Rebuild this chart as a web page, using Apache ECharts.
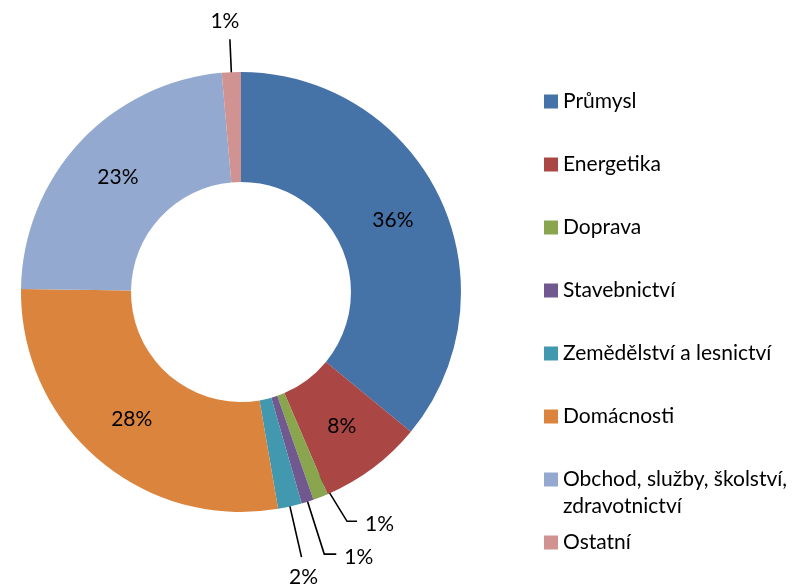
<!DOCTYPE html>
<html><head><meta charset="utf-8">
<script src="https://cdn.jsdelivr.net/npm/echarts@6/dist/echarts.min.js"></script>
<style>html,body{margin:0;padding:0;background:#fff}#c{width:803px;height:587px}</style>
</head><body><div id="c"></div>
<script>
const categories = ['Průmysl','Energetika','Doprava','Stavebnictví','Zemědělství a lesnictví','Domácnosti','Obchod, služby, školství, zdravotnictví','Ostatní'];
const shares = [36.0, 7.6, 1.1, 0.9, 1.75, 27.95, 23.4, 1.4];
const colors = ['#4572A7','#AA4643','#89A54E','#71588F','#4198AF','#DB843D','#93A9CF','#D19392'];
const FONT = 'Lato';
const leaders = {
  'Doprava': {length: 81, length2: 10, shift: 17, place: 'right'},
  'Stavebnictví': {length: 110, length2: 12, shift: 0, place: 'right'},
  'Zemědělství a lesnictví': {length: 107, length2: 0, shift: 0, place: 'below'},
  'Ostatní': {length: 88, length2: 0, shift: 0, place: 'above'}
};
const pct = p => Math.round(p.percent) + '%';

const ringData = categories.map((n, i) => ({
  name: n, value: shares[i],
  itemStyle: {color: colors[i]},
  label: {show: !leaders[n]}
}));
const leaderData = categories.map((n, i) => {
  const c = leaders[n];
  return {
    name: n, value: shares[i],
    label: {show: !!c},
    labelLine: c ? {show: true, length: c.length, length2: c.length2} : {show: false}
  };
});

const chart = echarts.init(document.getElementById('c'), null, {renderer: 'canvas'});
const legendBase = {
  orient: 'vertical', left: 544, padding: 0, itemWidth: 14, itemHeight: 14, itemGap: 36,
  icon: 'rect', selectedMode: false,
  textStyle: {fontFamily: FONT, fontSize: 21, lineHeight: 27, color: '#000'},
  formatter: n => n.replace('školství, ', 'školství,\n')
};
chart.setOption({
  backgroundColor: '#fff',
  animation: false,
  legend: [
    Object.assign({}, legendBase, {
      top: 88,
      data: categories.slice(0, 7).map((n, i) => i === 6 ? {name: n, textStyle: {padding: [0, 0, -27, 0], rich: {k: {}}}} : n)
    }),
    Object.assign({}, legendBase, {top: 529, data: [categories[7]]})
  ],
  series: [{
    type: 'pie',
    center: [241, 292],
    radius: [110, 220],
    startAngle: 90,
    clockwise: true,
    avoidLabelOverlap: false,
    silent: true,
    label: {position: 'inside', formatter: pct, color: '#000', fontFamily: FONT, fontSize: 21},
    labelLine: {show: false},
    data: ringData
  }, {
    type: 'pie',
    center: [241, 292],
    radius: [0, 165],
    startAngle: 90,
    clockwise: true,
    avoidLabelOverlap: false,
    silent: true,
    itemStyle: {color: 'rgba(0,0,0,0)'},
    label: {position: 'outside', formatter: pct, color: '#000', fontFamily: FONT, fontSize: 21},
    labelLine: {lineStyle: {color: '#000', width: 1.6}},
    labelLayout: function (p) {
      const cfg = leaders[categories[p.dataIndex]];
      if (!cfg || !p.labelLinePoints) return {};
      const pts = p.labelLinePoints.map(q => q.slice());
      pts[1][0] += cfg.shift; pts[2][0] += cfg.shift;
      const end = pts[2];
      if (cfg.place === 'right') return {x: end[0] + 8, y: end[1] + 3, align: 'left', verticalAlign: 'middle', labelLinePoints: pts};
      if (cfg.place === 'below') return {x: end[0] + 2, y: end[1] + 20, align: 'center', verticalAlign: 'middle', labelLinePoints: pts};
      return {x: end[0] - 5, y: end[1] - 18, align: 'center', verticalAlign: 'middle', labelLinePoints: pts};
    },
    data: leaderData
  }]
});
</script></body></html>
